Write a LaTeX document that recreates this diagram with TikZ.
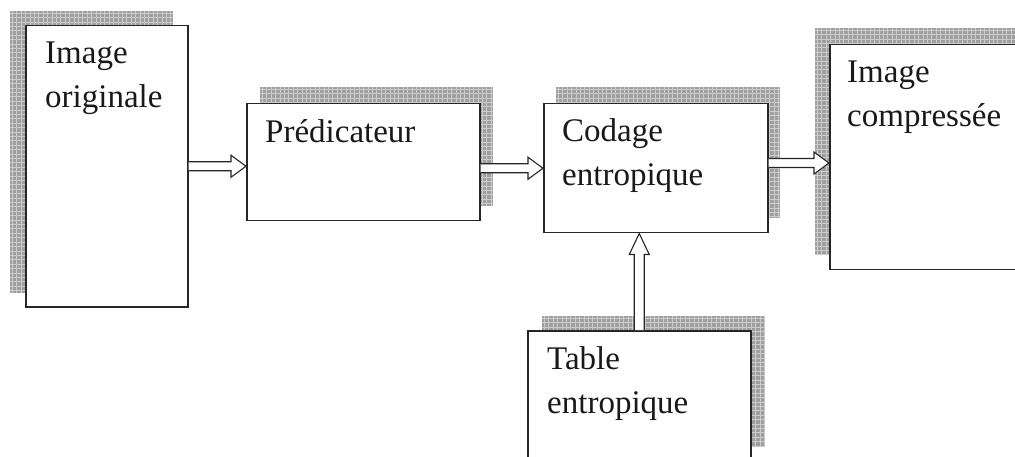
\documentclass[tikz,border=0pt]{standalone}
\usepackage{fontspec}
\setmainfont{Liberation Serif}
\usetikzlibrary{calc}

\tikzset{
  block/.style={draw=black!85, line width=1.5pt, fill=white, inner sep=0pt,
                anchor=north west},
  caption/.style={font=\fontsize{33}{44}\selectfont, inner sep=0pt,
                  anchor=base west, align=left, text=black!90},
  hollow/.style={draw=black!85, line width=1.1pt, fill=white, line join=miter},
  shade fill/.style={fill=gray!75},
  shade grid/.style={draw=gray!40, line width=0.6pt},
}

% grey hatched shadow behind a block: left, top, right, bottom
\newcommand\gridshadow[4]{%
  \fill[shade fill] (#1,#2) rectangle (#3,#4);
  \begin{scope}
    \clip (#1,#2) rectangle (#3,#4);
    \foreach \d in {2.2,6.6,...,300}{
      \draw[shade grid] ({#1+\d},#2) -- ({#1+\d},#4);
      \draw[shade grid] (#1,{#2+\d}) -- (#3,{#2+\d});
    }
  \end{scope}}

% hollow arrow pointing right, from #1 to the tip #2
\newcommand\arrowright[2]{%
  \filldraw[hollow] ($(#1)+(0,-4.5)$) -- ($(#2)+(-15,-4.5)$) -- ($(#2)+(-15,-11)$)
    -- (#2) -- ($(#2)+(-15,11)$) -- ($(#2)+(-15,4.5)$) -- ($(#1)+(0,4.5)$);}

% hollow arrow pointing up, from #1 to the tip #2
\newcommand\arrowup[2]{%
  \filldraw[hollow] ($(#1)+(-5,0)$) -- ($(#2)+(-5,21)$) -- ($(#2)+(-10,21)$)
    -- (#2) -- ($(#2)+(10,21)$) -- ($(#2)+(5,21)$) -- ($(#1)+(5,0)$);}

\begin{document}
\begin{tikzpicture}[x=1pt, y=-1pt]
  \useasboundingbox (0,0) rectangle (1015,457);
  \clip (0,0) rectangle (1015,457);

  % shadows
  \gridshadow{10}{11}{173}{293}
  \gridshadow{260}{87}{493}{206}
  \gridshadow{556}{87}{780}{218}
  \gridshadow{815}{28}{1030}{255}
  \gridshadow{542}{316}{765}{447}

  % blocks
  \node[block, minimum width=162pt, minimum height=281pt] (orig)   at (25,25)   {};
  \node[block, minimum width=233pt, minimum height=117pt] (pred)   at (246,103) {};
  \node[block, minimum width=224pt, minimum height=129pt] (codage) at (543,103) {};
  \node[block, minimum width=200pt, minimum height=225pt] (comp)   at (829,44)  {};
  \node[block, minimum width=223pt, minimum height=140pt] (table)  at (527,330) {};

  % captions (anchored on the baseline of their last line)
  \node[caption] (orig-t)   at (45,108)  {Image\\originale};
  \node[caption] (pred-t)   at (265,143) {Prédicateur};
  \node[caption] (codage-t) at (562,186) {Codage\\entropique};
  \node[caption] (comp-t)   at (847,127) {Image\\compressée};
  \node[caption] (table-t)  at (547,413) {Table\\entropique};

  % connectors
  \coordinate (c3) at ($(codage.north east)!0.46!(codage.south east)$);
  \arrowright{orig.east}{pred.west |- orig.east}
  \arrowright{pred.east |- codage.west}{codage.west}
  \arrowright{c3}{comp.west |- c3}
  \arrowup{table.north}{codage.south -| table.north}
\end{tikzpicture}
\end{document}
